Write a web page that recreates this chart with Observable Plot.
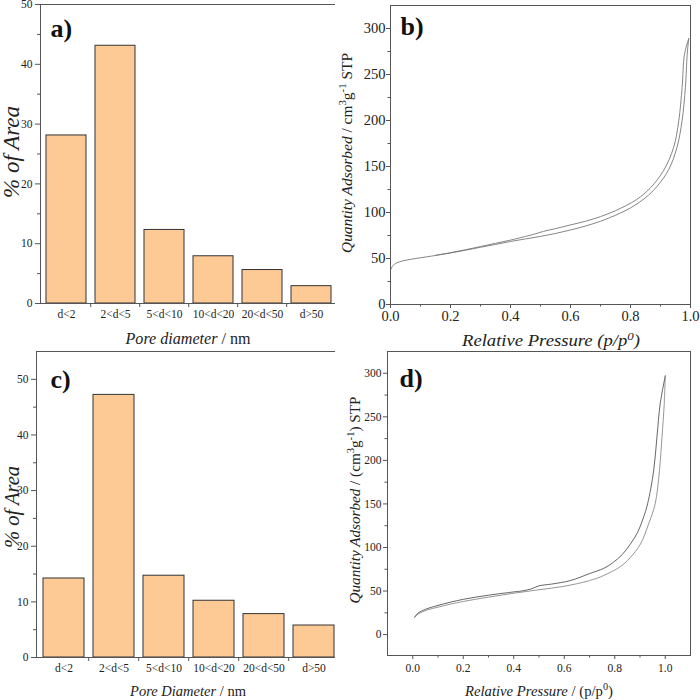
<!DOCTYPE html>
<html><head><meta charset="utf-8">
<script src="https://cdn.jsdelivr.net/npm/d3@7"></script>
<script src="https://cdn.jsdelivr.net/npm/@observablehq/plot@0.6"></script>
<style>
body{margin:0;background:#fff;}
#wrap{position:relative;width:700px;height:700px;overflow:hidden;background:#fff;}
.panel{position:absolute;}
.panel svg{overflow:visible;display:block;}
.panel svg text{font-family:'Liberation Serif','Times New Roman',serif;}
</style></head><body><div id="wrap"></div>
<script>
// ---------- data ----------
const categories = ["d<2", "2<d<5", "5<d<10", "10<d<20", "20<d<50", "d>50"];
const areaA = [28.1, 43.1, 12.3, 7.9, 5.6, 2.9];
const areaC = [14.2, 47.2, 14.7, 10.2, 7.8, 5.75];

const adsorptionB = [[0.002,38.5],[0.006,41.5],[0.012,43.5],[0.022,45.5],[0.04,47.3],[0.07,49.3],[0.1,50.8],[0.15,53.3],[0.2,56],[0.25,59],[0.3,62.2],[0.35,65.3],[0.4,68.5],[0.45,71.3],[0.5,74],[0.55,77.2],[0.6,81],[0.65,85.3],[0.7,90.5],[0.75,97],[0.8,105],[0.85,116],[0.89,129],[0.928,147],[0.955,171],[0.972,200],[0.983,236],[0.989,272],[0.994,289]];
const desorptionB = [[0.994,289],[0.98,272],[0.972,236],[0.961,200],[0.944,171],[0.911,146],[0.867,127],[0.82,114],[0.75,102],[0.7,95.5],[0.65,90.5],[0.6,86.5],[0.55,82.5],[0.51,79.5],[0.48,76.5],[0.45,74],[0.4,70],[0.35,66.5],[0.3,63],[0.25,59.5],[0.2,56.3],[0.15,53.5]];

const adsorptionD = [[0.008,20],[0.015,22.3],[0.03,25],[0.06,28.5],[0.1,31.5],[0.15,35],[0.2,38],[0.3,43],[0.4,47.5],[0.5,51.5],[0.6,55.5],[0.7,62],[0.756,67.8],[0.822,78],[0.86,88],[0.902,104],[0.934,127],[0.96,150],[0.977,188],[0.987,226.5],[0.996,265],[1.0,297]];
const desorptionD = [[1.0,297],[0.98,265],[0.967,226.5],[0.954,188],[0.93,150],[0.912,133],[0.89,117],[0.862,104],[0.83,92],[0.79,82],[0.756,76],[0.7,70],[0.624,62],[0.55,58],[0.5,56],[0.47,52.5],[0.43,50],[0.4,49],[0.3,45.2],[0.2,40.5],[0.1,33.5],[0.05,29],[0.028,26],[0.015,23],[0.008,20]];

const pctTicksA = [0,10,20,30,40,50];
const pctMinorA = [5,15,25,35,45];
const pctTicksC = [0,10,20,30,40,50];
const pctMinorC = [5,15,25,35,45];
const qTicks = [0,50,100,150,200,250,300];
const qMinor = [25,75,125,175,225,275];
const pTicks = [0,0.2,0.4,0.6,0.8,1.0];
const pMinor = [0.1,0.3,0.5,0.7,0.9];

// ---------- styling ----------
const SERIF = "'Liberation Serif','Times New Roman',serif";
const FILL = "#fdca96";
const INK = "#222";
const wrap = document.getElementById("wrap");

function place(svg, left, top) {
  const d = document.createElement("div");
  d.className = "panel";
  d.style.left = left + "px"; d.style.top = top + "px";
  d.appendChild(svg);
  wrap.appendChild(d);
}

function addTitle(svg, {x, y, rotate = false, size, length, parts}) {
  const t = d3.select(svg).append("text")
    .attr("transform", `translate(${x},${y})` + (rotate ? " rotate(-90)" : ""))
    .attr("text-anchor", "middle")
    .attr("font-family", SERIF)
    .attr("font-size", size)
    .attr("fill", INK);
  if (length) t.attr("textLength", length).attr("lengthAdjust", "spacingAndGlyphs");
  for (const p of parts) {
    const ts = t.append("tspan").text(p.t);
    if (p.i) ts.attr("font-style", "italic");
    if (p.sup) ts.attr("dy", -size * 0.38).attr("font-size", size * 0.7);
    if (p.down) ts.attr("dy", size * 0.38);
  }
}

function barPanel({values, yDomain, yTicks, yMinor, width, height, m, po, letter, letterDx, letterDy}) {
  const data = categories.map((c, i) => ({cat: c, v: values[i]}));
  const pi = 0.19;
  const innerW = width - m.left - m.right;
  const step = innerW / (categories.length - pi + 2 * po);
  return Plot.plot({
    width, height,
    marginLeft: m.left, marginRight: m.right, marginTop: m.top, marginBottom: m.bottom,
    style: {fontFamily: SERIF, fontSize: "11.5px", color: INK, background: "white", overflow: "visible"},
    x: {domain: categories, paddingInner: pi, paddingOuter: po, label: null},
    y: {domain: yDomain, label: null},
    marks: [
      Plot.barY(data, {x: "cat", y: "v", fill: FILL, stroke: "#333", strokeWidth: 1}),
      Plot.frame({stroke: "#555"}),
      Plot.axisY(yTicks, {tickSize: 5, tickPadding: 3, stroke: "#555", fontFamily: SERIF, fontSize: 11.5}),
      Plot.axisY(yMinor, {tickSize: 3, tickFormat: () => "", stroke: "#555"}),
      Plot.axisX({tickSize: 0, tickPadding: 6, fontFamily: SERIF, fontSize: 11.5}),
      Plot.axisX(categories.slice(1), {tickSize: 4, tickFormat: () => "", dx: -step / 2, stroke: "#555"}),
      Plot.text([letter], {text: d => d, frameAnchor: "top-left", dx: letterDx, dy: letterDy, lineAnchor: "top", textAnchor: "start", fontSize: 26, fontWeight: "bold", fontFamily: SERIF, fill: "#111"})
    ]
  });
}

function linePanel({ads, des, xDomain, yDomain, width, height, m, tickFont, yPad, xPad, letter, letterDx, letterDy, adsColor, desColor}) {
  return Plot.plot({
    width, height,
    marginLeft: m.left, marginRight: m.right, marginTop: m.top, marginBottom: m.bottom,
    style: {fontFamily: SERIF, fontSize: tickFont + "px", color: INK, background: "white", overflow: "visible"},
    x: {domain: xDomain, label: null},
    y: {domain: yDomain, label: null},
    marks: [
      Plot.line(ads, {x: d => d[0], y: d => d[1], stroke: adsColor, strokeWidth: 0.9, curve: "catmull-rom"}),
      Plot.line(des, {x: d => d[0], y: d => d[1], stroke: desColor, strokeWidth: 0.9, curve: "catmull-rom"}),
      Plot.frame({stroke: "#555"}),
      Plot.axisY(qTicks, {tickSize: 4, tickPadding: yPad, stroke: "#555", fontFamily: SERIF, fontSize: tickFont}),
      Plot.axisY(qMinor, {tickSize: 2.5, tickFormat: () => "", stroke: "#555"}),
      Plot.axisX(pTicks, {tickSize: 4, tickPadding: xPad, tickFormat: d3.format(".1f"), stroke: "#555", fontFamily: SERIF, fontSize: tickFont}),
      Plot.axisX(pMinor, {tickSize: 2.5, tickFormat: () => "", stroke: "#555"}),
      Plot.text([letter], {text: d => d, frameAnchor: "top-left", dx: letterDx, dy: letterDy, lineAnchor: "top", textAnchor: "start", fontSize: 26, fontWeight: "bold", fontFamily: SERIF, fill: "#111"})
    ]
  });
}

// ---------- panel a ----------
const svgA = barPanel({values: areaA, yDomain: [0, 50], yTicks: pctTicksA, yMinor: pctMinorA,
  width: 350, height: 350, m: {left: 40, right: 14, top: 4, bottom: 47}, po: 0.08,
  letter: "a)", letterDx: 10, letterDy: 14});
addTitle(svgA, {x: 19, y: 152, rotate: true, size: 23, parts: [{t: "% of Area", i: true}]});
addTitle(svgA, {x: 188, y: 344, size: 16, length: 125, parts: [{t: "Pore diameter", i: true}, {t: " / nm"}]});
place(svgA, 0, 0);

// ---------- panel b ----------
const svgB = linePanel({ads: adsorptionB, des: desorptionB, xDomain: [0, 1], yDomain: [0, 325],
  width: 365, height: 350, m: {left: 55, right: 10, top: 5, bottom: 46}, tickFont: 14.5, yPad: 1, xPad: 2,
  letter: "b)", letterDx: 10, letterDy: 11, adsColor: "#777", desColor: "#777"});
addTitle(svgB, {x: 17, y: 153, rotate: true, size: 15.5, length: 200,
  parts: [{t: "Quantity Adsorbed", i: true}, {t: " / cm"}, {t: "3", sup: true}, {t: "g", down: true}, {t: "-1", sup: true}, {t: " STP", down: true}]});
addTitle(svgB, {x: 216, y: 346, size: 16, length: 178,
  parts: [{t: "Relative Pressure (p/p", i: true}, {t: "0", i: true, sup: true}, {t: ")", i: true, down: true}]});
place(svgB, 335, 0);

// ---------- panel c ----------
const svgC = barPanel({values: areaC, yDomain: [0, 55], yTicks: pctTicksC, yMinor: pctMinorC,
  width: 350, height: 350, m: {left: 36, right: 10, top: 1, bottom: 43}, po: 0.1,
  letter: "c)", letterDx: 14, letterDy: 18});
addTitle(svgC, {x: 19, y: 157, rotate: true, size: 20.5, parts: [{t: "% of Area", i: true}]});
addTitle(svgC, {x: 188, y: 346, size: 14.5, parts: [{t: "Pore Diameter", i: true}, {t: " / nm"}]});
place(svgC, 0, 350);

// ---------- panel d ----------
const svgD = linePanel({ads: adsorptionD, des: desorptionD, xDomain: [-0.1, 1.1], yDomain: [-24, 325],
  width: 365, height: 350, m: {left: 52, right: 10, top: 1, bottom: 45}, tickFont: 11.5, yPad: 2, xPad: 4,
  letter: "d)", letterDx: 12, letterDy: 17, adsColor: "#8a8a8a", desColor: "#555"});
addTitle(svgD, {x: 25, y: 150, rotate: true, size: 15, length: 207,
  parts: [{t: "Quantity Adsorbed", i: true}, {t: " / (cm"}, {t: "3", sup: true}, {t: "g", down: true}, {t: "-1", sup: true}, {t: ") STP", down: true}]});
addTitle(svgD, {x: 204, y: 346, size: 15, length: 148,
  parts: [{t: "Relative Pressure", i: true}, {t: " / (p/p"}, {t: "0", sup: true}, {t: ")", down: true}]});
place(svgD, 335, 350);
</script>
</body></html>
